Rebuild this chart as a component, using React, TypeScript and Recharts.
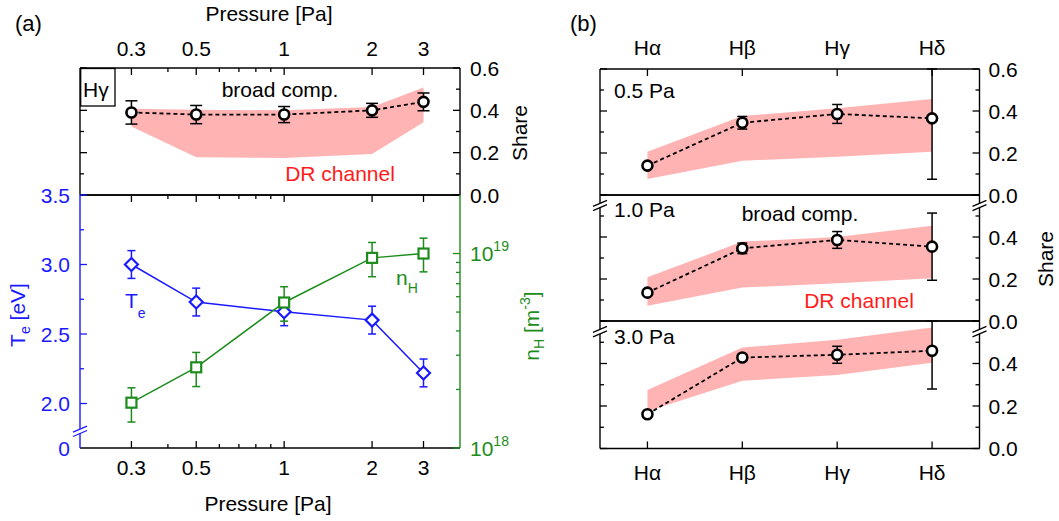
import React from "react";
import { ComposedChart, Line, Area, XAxis, YAxis, ErrorBar, ReferenceDot } from "recharts";

const W = 1059;
const H = 521;
const AX = 20;
const FONT = "'Liberation Sans', Arial, sans-serif";
const FS = 21;
const BLUE = "#1a1aff";
const GREEN = "#1d8c1d";
const RED = "#ff1a1a";
const PINK = "#ffb3b3";

// (a) top: H-gamma broad component share vs pressure
const pressures = [0.3, 0.5, 1, 2, 3];
const hgBroad = [0.39, 0.38, 0.38, 0.4, 0.44];
const hgBroadErr = [0.055, 0.043, 0.038, 0.033, 0.042];
const hgDrLow = [0.324, 0.178, 0.175, 0.194, 0.344];
const hgDrHigh = [0.408, 0.403, 0.4, 0.416, 0.508];

// (a) bottom: electron temperature and atomic hydrogen density
const teValues = [3.0, 2.73, 2.66, 2.6, 2.22];
const teErr = [0.1, 0.1, 0.1, 0.1, 0.1];
const nhValues = [1.71e18, 2.6e18, 5.6e18, 9.5e18, 1.0e19];
const nhErrLow = [0.35e18, 0.53e18, 1.11e18, 1.9e18, 1.95e18];
const nhErrHigh = [0.33e18, 0.5e18, 1.15e18, 1.9e18, 2.0e18];

// (b): share per Balmer line at three pressures
// errors are [minus, plus]; the plus side of Hδ stops at the frame
const lines = ["Hα", "Hβ", "Hγ", "Hδ"];
const pa05Broad = [0.14, 0.344, 0.386, 0.365];
const pa05ErrLow = [0.01, 0.03, 0.045, 0.29];
const pa05ErrHigh = [0.01, 0.03, 0.045, 0.235];
const pa05Low = [0.076, 0.163, 0.182, 0.206];
const pa05High = [0.206, 0.376, 0.413, 0.457];
const pa10Broad = [0.135, 0.346, 0.386, 0.354];
const pa10ErrLow = [0.01, 0.025, 0.04, 0.16];
const pa10ErrHigh = [0.01, 0.025, 0.04, 0.16];
const pa10Low = [0.073, 0.159, 0.18, 0.203];
const pa10High = [0.208, 0.378, 0.4, 0.454];
const pa30Broad = [0.161, 0.428, 0.441, 0.46];
const pa30ErrLow = [0.01, 0.015, 0.04, 0.18];
const pa30ErrHigh = [0.01, 0.015, 0.04, 0.14];
const pa30Low = [0.175, 0.319, 0.346, 0.404];
const pa30High = [0.275, 0.475, 0.512, 0.57];

// ticks
const pressureTicks = [0.3, 0.4, 0.5, 0.6, 0.7, 0.8, 0.9, 1, 2, 3];
const pressureMajor = [0.3, 0.5, 1, 2, 3];
const shareTicks = [0, 0.1, 0.2, 0.3, 0.4, 0.5, 0.6];
const shareLabelsFull = [0, 0.2, 0.4, 0.6];
const shareLabelsCut = [0, 0.2, 0.4];
const teTicks = [1.68, 2, 2.25, 2.5, 2.75, 3, 3.25, 3.5];
const teLabels = [2, 2.5, 3, 3.5];
const nhTicks = [1e18, 2e18, 3e18, 4e18, 5e18, 6e18, 7e18, 8e18, 9e18, 1e19];
const nhLabels = [1e18, 1e19];
const lineIdx = [0, 1, 2, 3];

const hgRows = pressures.map((x, i) => ({
  x,
  broad: hgBroad[i],
  err: hgBroadErr[i],
  dr: [hgDrLow[i], hgDrHigh[i]],
}));

const plasmaRows = pressures.map((x, i) => ({
  x,
  te: teValues[i],
  teErr: teErr[i],
  nh: nhValues[i],
  nhErr: [nhErrLow[i], nhErrHigh[i]],
}));

const balmerRows = (broad: number[], errLow: number[], errHigh: number[], low: number[], high: number[]) =>
  lines.map((_, i) => ({ x: i, broad: broad[i], err: [errLow[i], errHigh[i]], dr: [low[i], high[i]] }));

const mg = (l: number, t: number, r: number, b: number) => ({
  left: l - AX,
  top: t - AX,
  right: W - r - AX,
  bottom: H - b - AX,
});

type Side = "top" | "bottom" | "left" | "right";
type TickCfg = {
  major?: (v: number) => boolean;
  label?: (v: number) => React.ReactNode;
  line?: (v: number) => boolean;
  color?: string;
  gap?: number;
  long?: number;
  short?: number;
};

function tickOf(side: Side, cfg: TickCfg) {
  const { major = () => true, label, line = () => true, color = "#000", gap = 10, long = 7, short = 4 } = cfg;
  return (props: any) => {
    const { x, y, payload } = props;
    const v = payload.value as number;
    const len = major(v) ? long : short;
    const [dx, dy] =
      side === "top" ? [0, 1] : side === "bottom" ? [0, -1] : side === "left" ? [1, 0] : [-1, 0];
    const txt = label ? label(v) : null;
    let tx = x;
    let ty = y;
    let anchor: "start" | "middle" | "end" = "middle";
    if (side === "top") ty = y - gap;
    else if (side === "bottom") ty = y + gap;
    else if (side === "left") {
      tx = x - gap;
      ty = y + 7.5;
      anchor = "end";
    } else {
      tx = x + gap;
      ty = y + 7.5;
      anchor = "start";
    }
    return (
      <g>
        {line(v) && (
          <line x1={x} y1={y} x2={x + dx * len} y2={y + dy * len} stroke={color} strokeWidth={1.3} />
        )}
        {txt !== null && txt !== undefined && (
          <text x={tx} y={ty} textAnchor={anchor} fill={color} fontSize={FS} fontFamily={FONT}>
            {txt}
          </text>
        )}
      </g>
    );
  };
}

const axisBase = {
  type: "number" as const,
  tickSize: 0,
  tickMargin: 0,
  tickLine: false,
  interval: 0 as const,
  allowDataOverflow: true,
};

const frame = { stroke: "#000", strokeWidth: 1.4 };
const isEvenTenth = (v: number) => Math.round(v * 10) % 2 === 0;
const isPressureMajor = (v: number) => pressureMajor.includes(v);

const pow10 = (v: number) => (
  <>
    <tspan>10</tspan>
    <tspan dy={-10} fontSize={14}>
      {Math.round(Math.log10(v))}
    </tspan>
  </>
);

const OpenCircle = (p: any) =>
  p.cx == null ? null : (
    <circle key={`c${p.index}`} cx={p.cx} cy={p.cy} r={5} fill="#fff" stroke="#000" strokeWidth={2.6} />
  );

const Diamond = (p: any) =>
  p.cx == null ? null : (
    <path
      key={`d${p.index}`}
      d={`M${p.cx},${p.cy - 6.5} L${p.cx + 6.5},${p.cy} L${p.cx},${p.cy + 6.5} L${p.cx - 6.5},${p.cy} Z`}
      fill="#fff"
      stroke={BLUE}
      strokeWidth={2.2}
    />
  );

const Square = (p: any) =>
  p.cx == null ? null : (
    <rect key={`s${p.index}`} x={p.cx - 5} y={p.cy - 5} width={10} height={10} fill="#fff" stroke={GREEN} strokeWidth={2.2} />
  );

function BreakMark({ cx, cy, color }: { cx: number; cy: number; color: string }) {
  const dx = 7;
  const dy = 3;
  const g = 2.2;
  return (
    <g>
      <polygon
        points={`${cx - dx},${cy + dy - g} ${cx + dx},${cy - dy - g} ${cx + dx},${cy - dy + g} ${cx - dx},${cy + dy + g}`}
        fill="#fff"
      />
      <line x1={cx - dx} y1={cy + dy - g} x2={cx + dx} y2={cy - dy - g} stroke={color} strokeWidth={1.3} />
      <line x1={cx - dx} y1={cy + dy + g} x2={cx + dx} y2={cy - dy + g} stroke={color} strokeWidth={1.3} />
    </g>
  );
}

const layer: React.CSSProperties = { position: "absolute", left: 0, top: 0 };

function HgammaPanel() {
  return (
    <div style={layer}>
      <ComposedChart width={W} height={H} data={hgRows} margin={mg(80, 68, 460, 195)}>
        <XAxis
          {...axisBase}
          xAxisId="t"
          orientation="top"
          dataKey="x"
          scale="log"
          domain={[0.2, 4]}
          ticks={pressureTicks}
          height={AX}
          axisLine={frame}
          tick={tickOf("top", { major: isPressureMajor, label: (v) => (isPressureMajor(v) ? String(v) : null), gap: 12 })}
        />
        <XAxis {...axisBase} xAxisId="b" orientation="bottom" dataKey="x" scale="log" domain={[0.2, 4]} height={AX} axisLine={frame} tick={false} />
        <YAxis
          {...axisBase}
          yAxisId="l"
          orientation="left"
          domain={[0, 0.6]}
          ticks={shareTicks}
          width={AX}
          axisLine={frame}
          tick={tickOf("left", { major: isEvenTenth })}
        />
        <YAxis
          {...axisBase}
          yAxisId="r"
          orientation="right"
          domain={[0, 0.6]}
          ticks={shareTicks}
          width={AX}
          axisLine={frame}
          tick={tickOf("right", {
            major: isEvenTenth,
            label: (v) => (shareLabelsFull.includes(v) ? v.toFixed(1) : null),
            gap: 10,
          })}
        />
        <Area xAxisId="t" yAxisId="l" type="linear" dataKey="dr" fill={PINK} fillOpacity={1} stroke="none" dot={false} activeDot={false} isAnimationActive={false} />
        <Line xAxisId="b" yAxisId="r" type="linear" dataKey="broad" stroke="#000" strokeWidth={1.8} strokeDasharray="4 3" dot={OpenCircle} activeDot={false} isAnimationActive={false}>
          <ErrorBar dataKey="err" direction="y" width={6} stroke="#000" strokeWidth={1.5} />
        </Line>
      </ComposedChart>
    </div>
  );
}

function PlasmaPanel() {
  return (
    <div style={layer}>
      <ComposedChart width={W} height={H} data={plasmaRows} margin={mg(80, 195, 460, 448)}>
        <XAxis
          {...axisBase}
          xAxisId="t"
          orientation="top"
          dataKey="x"
          scale="log"
          domain={[0.2, 4]}
          ticks={pressureTicks}
          height={AX}
          axisLine={frame}
          tick={tickOf("top", { major: isPressureMajor })}
        />
        <XAxis
          {...axisBase}
          xAxisId="b"
          orientation="bottom"
          dataKey="x"
          scale="log"
          domain={[0.2, 4]}
          ticks={pressureTicks}
          height={AX}
          axisLine={frame}
          tick={tickOf("bottom", { major: isPressureMajor, label: (v) => (isPressureMajor(v) ? String(v) : null), gap: 27 })}
        />
        <YAxis
          {...axisBase}
          yAxisId="l"
          orientation="left"
          domain={[1.68, 3.5]}
          ticks={teTicks}
          width={AX}
          axisLine={{ stroke: BLUE, strokeWidth: 1.4 }}
          tick={tickOf("left", {
            color: BLUE,
            major: (v) => teLabels.includes(v),
            line: (v) => v !== 1.68,
            label: (v) => (v === 1.68 ? "0" : teLabels.includes(v) ? v.toFixed(1) : null),
            gap: 10,
          })}
        />
        <YAxis
          {...axisBase}
          yAxisId="r"
          orientation="right"
          scale="log"
          domain={[1e18, 2e19]}
          ticks={nhTicks}
          width={AX}
          axisLine={{ stroke: GREEN, strokeWidth: 1.4 }}
          tick={tickOf("right", {
            color: GREEN,
            major: (v) => nhLabels.includes(v),
            label: (v) => (nhLabels.includes(v) ? pow10(v) : null),
            gap: 10,
          })}
        />
        <Line xAxisId="b" yAxisId="l" type="linear" dataKey="te" stroke={BLUE} strokeWidth={1.5} dot={Diamond} activeDot={false} isAnimationActive={false}>
          <ErrorBar dataKey="teErr" direction="y" width={4} stroke={BLUE} strokeWidth={1.5} />
        </Line>
        <Line xAxisId="t" yAxisId="r" type="linear" dataKey="nh" stroke={GREEN} strokeWidth={1.5} dot={Square} activeDot={false} isAnimationActive={false}>
          <ErrorBar dataKey="nhErr" direction="y" width={4} stroke={GREEN} strokeWidth={1.5} />
        </Line>
        <ReferenceDot xAxisId="b" yAxisId="l" x={0.2} y={1.8} r={0} ifOverflow="visible" shape={(p: any) => <BreakMark cx={p.cx} cy={p.cy} color={BLUE} />} />
      </ComposedChart>
    </div>
  );
}

type BalmerProps = {
  rows: ReturnType<typeof balmerRows>;
  top: number;
  bottom: number;
  showTop?: boolean;
  showBottom?: boolean;
  broken?: boolean;
  yLabels: number[];
};

function BalmerPanel({ rows, top, bottom, showTop, showBottom, broken, yLabels }: BalmerProps) {
  return (
    <div style={layer}>
      <ComposedChart width={W} height={H} data={rows} margin={mg(600, top, 979.5, bottom)}>
        <XAxis
          {...axisBase}
          xAxisId="t"
          orientation="top"
          dataKey="x"
          domain={[-0.5, 3.5]}
          ticks={lineIdx}
          height={AX}
          axisLine={frame}
          tick={showTop ? tickOf("top", { label: (v) => lines[v], gap: 14 }) : false}
        />
        <XAxis
          {...axisBase}
          xAxisId="b"
          orientation="bottom"
          dataKey="x"
          domain={[-0.5, 3.5]}
          ticks={lineIdx}
          height={AX}
          axisLine={frame}
          tick={showBottom ? tickOf("bottom", { label: (v) => lines[v], gap: 31 }) : false}
        />
        <YAxis {...axisBase} yAxisId="l" orientation="left" domain={[0, 0.6]} ticks={shareTicks} width={AX} axisLine={frame} tick={tickOf("left", { major: isEvenTenth })} />
        <YAxis
          {...axisBase}
          yAxisId="r"
          orientation="right"
          domain={[0, 0.6]}
          ticks={shareTicks}
          width={AX}
          axisLine={frame}
          tick={tickOf("right", {
            major: isEvenTenth,
            label: (v) => (yLabels.includes(v) ? v.toFixed(1) : null),
            gap: 9,
          })}
        />
        <Area xAxisId="t" yAxisId="l" type="linear" dataKey="dr" fill={PINK} fillOpacity={1} stroke="none" dot={false} activeDot={false} isAnimationActive={false} />
        <Line xAxisId="b" yAxisId="r" type="linear" dataKey="broad" stroke="#000" strokeWidth={1.8} strokeDasharray="4 3" dot={OpenCircle} activeDot={false} isAnimationActive={false}>
          <ErrorBar dataKey="err" direction="y" width={5} stroke="#000" strokeWidth={1.5} />
        </Line>
        {broken && (
          <ReferenceDot xAxisId="b" yAxisId="l" x={-0.5} y={0.55} r={0} ifOverflow="visible" shape={(p: any) => <BreakMark cx={p.cx} cy={p.cy} color="#000" />} />
        )}
        {broken && (
          <ReferenceDot xAxisId="b" yAxisId="l" x={3.5} y={0.55} r={0} ifOverflow="visible" shape={(p: any) => <BreakMark cx={p.cx} cy={p.cy} color="#000" />} />
        )}
      </ComposedChart>
    </div>
  );
}

function Annotations() {
  return (
    <svg width={W} height={H} style={{ ...layer, pointerEvents: "none" }} fontFamily={FONT} fontSize={FS}>
      <text x={15} y={31} fontSize={22}>(a)</text>
      <text x={570} y={31} fontSize={22}>(b)</text>
      <text x={269} y={21} textAnchor="middle">Pressure [Pa]</text>
      <text x={268} y={511} textAnchor="middle">Pressure [Pa]</text>
      <text transform="translate(527,133) rotate(-90)" textAnchor="middle">Share</text>
      <text transform="translate(1053,259) rotate(-90)" textAnchor="middle">Share</text>
      <text transform="translate(25,315) rotate(-90)" textAnchor="middle" fill={BLUE}>
        T<tspan dy={5} fontSize={14}>e</tspan>
        <tspan dy={-5}> [eV]</tspan>
      </text>
      <text transform="translate(539,326) rotate(-90)" textAnchor="middle" fill={GREEN}>
        n<tspan dy={5} fontSize={14}>H</tspan>
        <tspan dy={-5}> [m</tspan>
        <tspan dy={-9} fontSize={14}>-3</tspan>
        <tspan dy={9}>]</tspan>
      </text>
      <rect x={80.7} y={68.5} width={34.3} height={37.5} fill="#fff" stroke="#000" strokeWidth={1.3} />
      <text x={83} y={97}>Hγ</text>
      <text x={280} y={97} textAnchor="middle">broad comp.</text>
      <text x={340} y={181} textAnchor="middle" fill={RED}>DR channel</text>
      <text x={125} y={308} fill={BLUE}>
        T<tspan dy={10} fontSize={14}>e</tspan>
      </text>
      <text x={396} y={285} fill={GREEN}>
        n<tspan dy={8} fontSize={14}>H</tspan>
      </text>
      <text x={614} y={98}>0.5 Pa</text>
      <text x={614} y={217}>1.0 Pa</text>
      <text x={614} y={344}>3.0 Pa</text>
      <text x={800} y={221} textAnchor="middle">broad comp.</text>
      <text x={859} y={308} textAnchor="middle" fill={RED}>DR channel</text>
    </svg>
  );
}

export default function App() {
  return (
    <div style={{ position: "absolute", left: 0, top: 0, width: W, height: H, background: "#fff", fontFamily: FONT }}>
      <HgammaPanel />
      <PlasmaPanel />
      <BalmerPanel rows={balmerRows(pa05Broad, pa05ErrLow, pa05ErrHigh, pa05Low, pa05High)} top={69} bottom={195} showTop yLabels={shareLabelsFull} />
      <BalmerPanel rows={balmerRows(pa10Broad, pa10ErrLow, pa10ErrHigh, pa10Low, pa10High)} top={195} bottom={321} broken yLabels={shareLabelsCut} />
      <BalmerPanel rows={balmerRows(pa30Broad, pa30ErrLow, pa30ErrHigh, pa30Low, pa30High)} top={321} bottom={448.5} showBottom broken yLabels={shareLabelsCut} />
      <Annotations />
    </div>
  );
}
